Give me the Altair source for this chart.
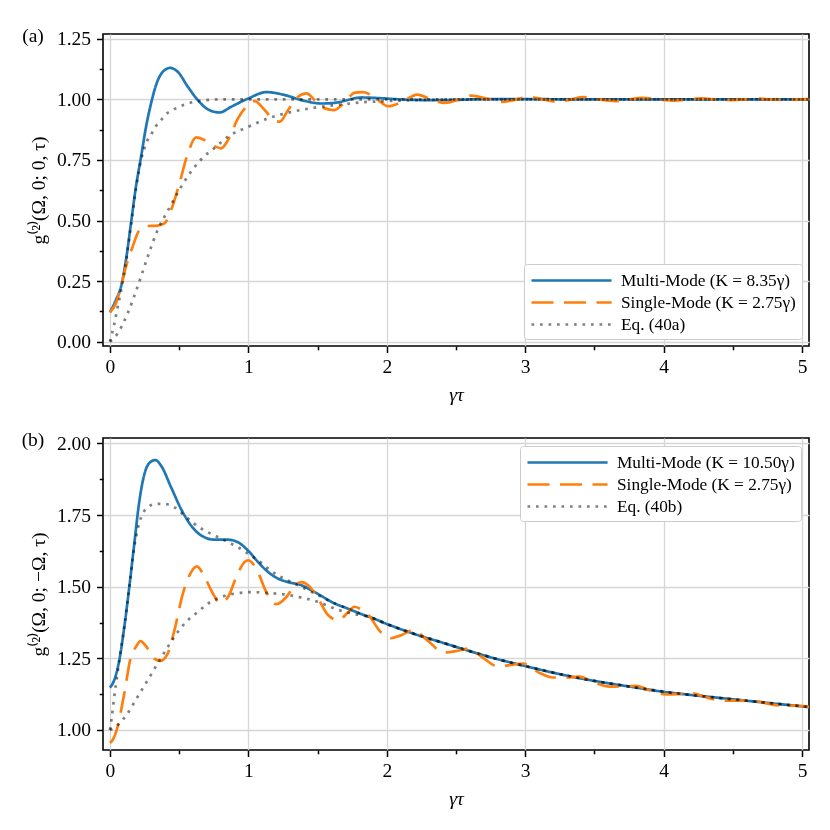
import altair as alt
import pandas as pd

# ---------------- data ----------------
# Panel (a): g2(Omega,0;0,tau)
a_multi_tau = [0, 0.043, 0.08, 0.116, 0.152, 0.188, 0.225, 0.261, 0.297, 0.333, 0.382, 0.435, 0.49,
               0.563, 0.635, 0.708, 0.792, 0.877, 1.0, 1.13, 1.263, 1.384, 1.529, 1.626, 1.82, 1.95,
               2.1, 2.3, 2.5, 2.7, 3.0, 3.5, 4.0, 4.5, 5.05]
a_multi_g = [0.121, 0.172, 0.227, 0.337, 0.488, 0.64, 0.763, 0.887, 0.983, 1.059, 1.114, 1.13, 1.114,
             1.052, 0.997, 0.959, 0.946, 0.97, 1.004, 1.03, 1.018, 0.997, 0.983, 0.986, 1.008, 1.005,
             1.0, 0.997, 0.998, 1.001, 1.001, 1.0, 1.0, 1.0, 1.0]

a_single_tau = [0, 0.043, 0.08, 0.116, 0.164, 0.213, 0.261, 0.345, 0.394, 0.442, 0.502, 0.563, 0.623,
                0.684, 0.756, 0.804, 0.853, 0.925, 0.998, 1.046, 1.118, 1.19, 1.227, 1.287, 1.36, 1.42,
                1.48, 1.553, 1.62, 1.698, 1.77, 1.83, 1.92, 2.01, 2.11, 2.22, 2.32, 2.42, 2.52, 2.61,
                2.72, 2.83, 2.93, 3.02, 3.13, 3.24, 3.33, 3.42, 3.53, 3.65, 3.75, 3.84, 3.96, 4.08,
                4.18, 4.27, 4.38, 4.49, 4.58, 4.68, 4.77, 4.87, 4.96, 5.05]
a_single_g = [0.121, 0.158, 0.227, 0.31, 0.392, 0.461, 0.477, 0.479, 0.488, 0.543, 0.653, 0.777, 0.843,
              0.832, 0.807, 0.798, 0.832, 0.922, 0.977, 0.993, 0.956, 0.912, 0.908, 0.956, 1.011, 1.025,
              0.997, 0.963, 0.956, 0.99, 1.028, 1.03, 1.005, 0.972, 0.99, 1.02, 1.0, 0.986, 1.0, 1.016,
              1.003, 0.99, 0.999, 1.01, 1.0, 0.99, 1.0, 1.009, 1.0, 0.993, 1.0, 1.006, 1.0, 0.995,
              1.0, 1.004, 1.0, 0.997, 1.0, 1.003, 1.0, 0.998, 1.0, 1.001]

a_eq1_tau = [0, 0.03, 0.055, 0.08, 0.116, 0.152, 0.188, 0.225, 0.25, 0.27, 0.297, 0.333, 0.37, 0.418,
             0.454, 0.5, 0.563, 0.66, 0.8, 1.0, 1.5, 2.0, 3.0, 4.0, 5.05]
a_eq1_g = [0, 0.07, 0.14, 0.21, 0.33, 0.48, 0.63, 0.75, 0.8, 0.83, 0.854, 0.89, 0.915, 0.945,
           0.956, 0.97, 0.983, 0.995, 1.0, 1.0, 1.0, 1.0, 1.0, 1.0, 1.0]

a_eq2_tau = [0, 0.056, 0.128, 0.2, 0.273, 0.345, 0.418, 0.49, 0.563, 0.66, 0.756, 0.853, 1.0, 1.143,
             1.287, 1.48, 1.674, 1.82, 2.0, 2.3, 2.6, 3.0, 4.0, 5.05]
a_eq2_g = [0, 0.034, 0.117, 0.227, 0.351, 0.461, 0.54, 0.615, 0.683, 0.753, 0.8, 0.846, 0.887, 0.922,
           0.945, 0.966, 0.979, 0.988, 0.993, 0.998, 1.0, 1.0, 1.0, 1.0]

# Panel (b): g2(Omega,0;-Omega,tau)
b_multi_tau = [0, 0.031, 0.068, 0.104, 0.14, 0.176, 0.213, 0.249, 0.297, 0.329, 0.37, 0.442, 0.514,
               0.587, 0.659, 0.756, 0.853, 0.925, 0.998, 1.07, 1.143, 1.215, 1.287, 1.384, 1.48, 1.626,
               1.722, 1.819, 1.9, 2.0, 2.2, 2.4, 2.6, 2.8, 3.0, 3.2, 3.4, 3.6, 3.8, 4.0, 4.2, 4.4, 4.6,
               4.8, 5.05]
b_multi_g = [1.148, 1.174, 1.244, 1.36, 1.499, 1.65, 1.8, 1.893, 1.937, 1.942, 1.922, 1.847, 1.771,
             1.713, 1.679, 1.664, 1.664, 1.655, 1.626, 1.586, 1.551, 1.528, 1.516, 1.505, 1.481, 1.441,
             1.423, 1.404, 1.39, 1.37, 1.335, 1.305, 1.275, 1.247, 1.223, 1.2, 1.18, 1.163, 1.148,
             1.133, 1.122, 1.112, 1.102, 1.092, 1.08]

b_single_tau = [0, 0.02, 0.056, 0.104, 0.152, 0.188, 0.22, 0.273, 0.321, 0.365, 0.418, 0.466, 0.527,
                0.587, 0.628, 0.684, 0.744, 0.792, 0.853, 0.913, 0.973, 0.998, 1.058, 1.13, 1.203,
                1.275, 1.336, 1.384, 1.432, 1.504, 1.577, 1.65, 1.722, 1.765, 1.8, 1.87, 1.95, 2.03,
                2.1, 2.19, 2.3, 2.41, 2.5, 2.59, 2.7, 2.8, 2.9, 2.98, 3.1, 3.2, 3.3, 3.39, 3.5, 3.61,
                3.7, 3.8, 3.9, 4.02, 4.1, 4.2, 4.32, 4.44, 4.53, 4.63, 4.74, 4.85, 4.95, 5.05]
b_single_g = [0.955, 0.965, 1.012, 1.128, 1.256, 1.29, 1.31, 1.284, 1.249, 1.241, 1.267, 1.348, 1.476,
              1.551, 1.571, 1.534, 1.476, 1.443, 1.464, 1.534, 1.586, 1.592, 1.563, 1.481, 1.439,
              1.464, 1.505, 1.516, 1.505, 1.458, 1.4, 1.383, 1.412, 1.43, 1.425, 1.4, 1.345, 1.32,
              1.33, 1.348, 1.31, 1.27, 1.275, 1.284, 1.25, 1.222, 1.227, 1.232, 1.2, 1.183, 1.183,
              1.186, 1.165, 1.151, 1.152, 1.154, 1.138, 1.124, 1.125, 1.128, 1.112, 1.102, 1.102,
              1.103, 1.093, 1.085, 1.085, 1.08]

b_eq1_tau = [0, 0.014, 0.031, 0.05, 0.068, 0.104, 0.14, 0.176, 0.2, 0.225, 0.273, 0.333, 0.394, 0.466,
             0.539, 0.611, 0.684, 0.756, 0.853, 0.925, 0.998, 1.07, 1.143, 1.215, 1.312, 1.384, 1.48,
             1.626, 1.722, 1.819, 1.9, 2.0, 2.2, 2.4, 2.6, 2.8, 3.0, 3.2, 3.4, 3.6, 3.8, 4.0, 4.2, 4.4,
             4.6, 4.8, 5.05]
b_eq1_g = [1.0, 1.046, 1.116, 1.18, 1.244, 1.36, 1.499, 1.64, 1.70, 1.742, 1.777, 1.789, 1.789, 1.777,
           1.748, 1.719, 1.696, 1.679, 1.655, 1.638, 1.615, 1.592, 1.563, 1.539, 1.516, 1.499, 1.476,
           1.441, 1.423, 1.404, 1.39, 1.37, 1.335, 1.305, 1.275, 1.247, 1.223, 1.2, 1.18, 1.163,
           1.148, 1.133, 1.122, 1.112, 1.102, 1.092, 1.08]

b_eq2_tau = [0, 0.056, 0.128, 0.2, 0.273, 0.345, 0.418, 0.49, 0.563, 0.635, 0.708, 0.804, 0.901, 1.022,
             1.143, 1.263, 1.384, 1.504, 1.626, 1.746, 1.85, 1.95, 2.0, 2.2, 2.4, 2.6, 2.8, 3.0, 3.4,
             3.8, 4.2, 4.6, 5.05]
b_eq2_g = [1.0, 1.017, 1.058, 1.116, 1.174, 1.232, 1.29, 1.342, 1.383, 1.412, 1.441, 1.464, 1.476,
           1.481, 1.478, 1.473, 1.462, 1.447, 1.423, 1.406, 1.397, 1.38, 1.37, 1.335, 1.305, 1.275,
           1.247, 1.223, 1.18, 1.148, 1.122, 1.102, 1.08]

a_labels = ["Multi-Mode (K = 8.35γ)", "Single-Mode (K = 2.75γ)", "Eq. (40a)"]
b_labels = ["Multi-Mode (K = 10.50γ)", "Single-Mode (K = 2.75γ)", "Eq. (40b)"]

x_ticks = [0, 0.5, 1, 1.5, 2, 2.5, 3, 3.5, 4, 4.5, 5]
a_y_ticks = [0, 0.125, 0.25, 0.375, 0.5, 0.625, 0.75, 0.875, 1.0, 1.125, 1.25]
b_y_ticks = [1.0, 1.125, 1.25, 1.375, 1.5, 1.625, 1.75, 1.875, 2.0]

x_domain = [-0.05, 5.05]
a_y_domain = [-0.018, 1.27]
b_y_domain = [0.93, 2.019]

# ---------------- styling ----------------
FONT = "Liberation Serif"
W, H = 706, 312
COLORS = ["#1f77b4", "#ff7f0e", "#808080"]
DASHES = [[1, 0], [22, 10.5], [2.7, 5.8]]

X_MAJOR = "abs(datum.value - round(datum.value)) < 0.001"
Y_MAJOR = "abs(datum.value*4 - round(datum.value*4)) < 0.001"


def frame(tau, g, series, curve):
    return pd.DataFrame({"tau": tau, "g": g, "series": series, "curve": curve})


def panel(tag, labels, multi, single, eq1, eq2, yticks, ydom, ytitle, legend_orient, legend_offset):
    df_m = frame(multi[0], multi[1], labels[0], "m")
    df_s = frame(single[0], single[1], labels[1], "s")
    df_e = pd.concat([frame(eq1[0], eq1[1], labels[2], "e1"),
                      frame(eq2[0], eq2[1], labels[2], "e2")])

    xenc = alt.X("tau:Q", scale=alt.Scale(domain=x_domain, nice=False, zero=False),
                 axis=alt.Axis(values=x_ticks, title="γτ", titleFontStyle="italic",
                               labelExpr=f"{X_MAJOR} ? format(datum.value, 'd') : ''",
                               tickSize={"condition": {"test": X_MAJOR, "value": 6.5}, "value": 3.8},
                               gridOpacity={"condition": {"test": X_MAJOR, "value": 1}, "value": 0},
                               labelFlush=False, labelOverlap=False, domain=False,
                               labelPadding=5, titlePadding=9))
    yenc = alt.Y("g:Q", scale=alt.Scale(domain=ydom, nice=False, zero=False),
                 axis=alt.Axis(values=yticks, title=ytitle,
                               labelExpr=f"{Y_MAJOR} ? format(datum.value, '.2f') : ''",
                               tickSize={"condition": {"test": Y_MAJOR, "value": 6.5}, "value": 3.8},
                               gridOpacity={"condition": {"test": Y_MAJOR, "value": 1}, "value": 0},
                               labelFlush=False, labelOverlap=False, domain=False,
                               labelPadding=6, titlePadding=8))
    legend = alt.Legend(orient=legend_orient, offset=legend_offset, symbolType="M-1,0H7.9",
                        symbolSize=324, symbolStrokeWidth=2.7, labelFont=FONT, labelFontSize=17.3,
                        labelColor="black", labelLimit=400, fillColor="white", strokeColor="#cccccc",
                        padding=6, cornerRadius=3, labelOffset=70, rowPadding=3)
    color = alt.Color("series:N", title=None, legend=legend,
                      scale=alt.Scale(domain=labels, range=COLORS))
    dash = alt.StrokeDash("series:N", title=None, legend=legend,
                          scale=alt.Scale(domain=labels, range=DASHES))

    def line(df, **extra):
        return alt.Chart(df).mark_line(strokeWidth=2.7, interpolate="monotone", strokeCap="butt",
                                       **extra).encode(
            x=xenc, y=yenc, color=color, strokeDash=dash, detail="curve:N")

    label = alt.Chart(pd.DataFrame({"t": [tag]})).mark_text(
        font=FONT, fontSize=19.5, align="center", baseline="middle", color="black"
    ).encode(text="t:N", x=alt.value(-70), y=alt.value(2))

    return alt.layer(line(df_m), line(df_s), line(df_e, blend="multiply"), label).properties(
        width=W, height=H)


pa = panel("(a)", a_labels, (a_multi_tau, a_multi_g), (a_single_tau, a_single_g),
           (a_eq1_tau, a_eq1_g), (a_eq2_tau, a_eq2_g), a_y_ticks, a_y_domain,
           "g⁽²⁾(Ω, 0; 0, τ)", "bottom-right", 7)
pb = panel("(b)", b_labels, (b_multi_tau, b_multi_g), (b_single_tau, b_single_g),
           (b_eq1_tau, b_eq1_g), (b_eq2_tau, b_eq2_g), b_y_ticks, b_y_domain,
           "g⁽²⁾(Ω, 0; −Ω, τ)", "top-right", 8)

chart = alt.vconcat(pa, pb, spacing=24).resolve_scale(
    color="independent", strokeDash="independent",
    x="independent", y="independent"
).properties(
    padding={"left": 12, "top": 17, "right": 0, "bottom": 0}
).configure(
    font=FONT
).configure_view(
    stroke="black", strokeWidth=1.6
).configure_axis(
    labelFont=FONT, titleFont=FONT, labelFontSize=19.5, titleFontSize=19.5,
    labelColor="black", titleColor="black", titleFontWeight="normal",
    tickColor="black", tickWidth=1.5, gridColor="#d6d6d6", gridWidth=1.3
)

chart.save("out.html", embed_options={"renderer": "svg", "actions": False})
